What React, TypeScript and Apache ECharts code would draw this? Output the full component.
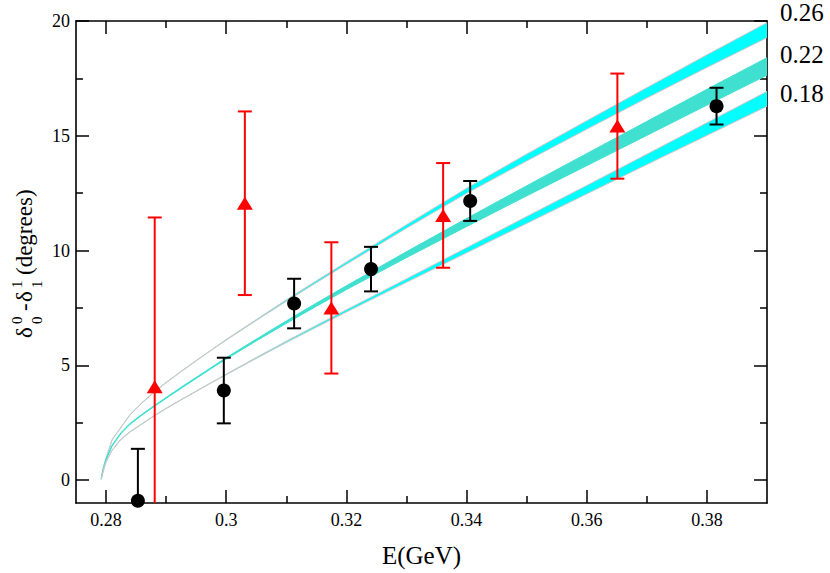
import React, { useEffect, useRef } from "react";
import * as echarts from "echarts";

// ---------- data ----------
const CURVE_X = [
  0.2792, 0.2795, 0.28, 0.281, 0.2825, 0.284, 0.286, 0.288, 0.29, 0.2925, 0.295, 0.2975, 0.3,
  0.305, 0.31, 0.315, 0.32, 0.325, 0.33, 0.34, 0.35, 0.36, 0.37, 0.38, 0.39,
];
// band centres (degrees)
const CURVE_026 = [
  0.05, 0.5, 0.95, 1.75, 2.3, 2.85, 3.37, 3.83, 4.25, 4.73, 5.2, 5.66, 6.11,
  6.97, 7.82, 8.64, 9.45, 10.25, 11.05, 12.6, 14.05, 15.47, 16.87, 18.25, 19.6,
];
const CURVE_022 = [
  0.05, 0.42, 0.9, 1.5, 2.05, 2.45, 2.85, 3.22, 3.58, 4.02, 4.45, 4.88, 5.3,
  6.1, 6.88, 7.64, 8.38, 9.1, 9.82, 11.22, 12.6, 13.96, 15.32, 16.68, 18.02,
];
const CURVE_018 = [
  0.05, 0.35, 0.78, 1.3, 1.78, 2.1, 2.45, 2.8, 3.12, 3.5, 3.87, 4.24, 4.6,
  5.32, 6.02, 6.7, 7.37, 8.03, 8.69, 10.01, 11.33, 12.65, 13.97, 15.29, 16.61,
];
// band full widths (degrees)
const WIDTH_026 = [
  0.02, 0.02, 0.02, 0.02, 0.02, 0.02, 0.02, 0.02, 0.02, 0.02, 0.02, 0.02, 0.03,
  0.04, 0.06, 0.08, 0.1, 0.12, 0.15, 0.22, 0.3, 0.37, 0.45, 0.55, 0.65,
];
const WIDTH_022 = [
  0.03, 0.03, 0.03, 0.03, 0.03, 0.03, 0.03, 0.03, 0.03, 0.04, 0.04, 0.04, 0.05,
  0.07, 0.1, 0.13, 0.16, 0.2, 0.25, 0.34, 0.43, 0.52, 0.6, 0.68, 0.75,
];
const WIDTH_018 = [
  0.02, 0.02, 0.02, 0.02, 0.02, 0.02, 0.02, 0.02, 0.02, 0.02, 0.02, 0.02, 0.03,
  0.04, 0.06, 0.08, 0.1, 0.12, 0.15, 0.22, 0.3, 0.37, 0.45, 0.55, 0.65,
];
const BAND_LABELS = ["0.26", "0.22", "0.18"];

const BLACK_X = [0.2853, 0.2996, 0.3113, 0.3241, 0.3406, 0.3816];
const BLACK_Y = [-0.9, 3.9, 7.69, 9.19, 12.16, 16.29];
const BLACK_ERR = [2.26, 1.43, 1.08, 0.97, 0.87, 0.8];

const RED_X = [0.2881, 0.3031, 0.3175, 0.3361, 0.3651];
const RED_Y = [4.07, 12.06, 7.5, 11.53, 15.42];
const RED_ERR = [7.37, 4.0, 2.86, 2.28, 2.29];

const X_MAJOR = [0.28, 0.3, 0.32, 0.34, 0.36, 0.38];
const X_MINOR = [0.29, 0.31, 0.33, 0.35, 0.37];
const Y_MAJOR = [0, 5, 10, 15, 20];
const Y_MINOR = [2.5, 7.5, 12.5, 17.5];

const X_NAME = "E(GeV)";

const FONT = "'Liberation Serif', 'Times New Roman', serif";

export default function App() {
  const ref = useRef<HTMLDivElement>(null);

  useEffect(() => {
    const chart = echarts.init(ref.current as HTMLDivElement, null, { renderer: "svg" });

    const xMin = 0.275, xMax = 0.39, yMin = -1, yMax = 20;

    const labelStyle = (show: boolean, vals: number[], margin: number) => ({
      show,
      customValues: vals,
      margin,
      fontFamily: FONT,
      fontSize: 18,
      color: "#000",
      formatter: (v: number) => "{t|" + String(+(+v).toFixed(3)) + "}",
      rich: { t: { fontFamily: FONT, fontSize: 18, color: "#000" } },
    });

    const mkX = (position: string, vals: number[], len: number, line: boolean, label: boolean, name?: string) => ({
      type: "value",
      position,
      min: xMin,
      max: xMax,
      name: name,
      nameLocation: "middle",
      nameGap: 40,
      nameTextStyle: { fontFamily: FONT, fontSize: 25, color: "#000", lineHeight: 25 },
      axisLine: { show: line, onZero: false, lineStyle: { color: "#000", width: 1.6 } },
      axisTick: { show: true, inside: true, length: len, customValues: vals, lineStyle: { color: "#000", width: 1.5 } },
      axisLabel: labelStyle(label, vals, 8),
      splitLine: { show: false },
    });
    const mkY = (position: string, vals: number[], len: number, line: boolean, label: boolean) => ({
      type: "value",
      position,
      min: yMin,
      max: yMax,
      axisLine: { show: line, onZero: false, lineStyle: { color: "#000", width: 1.6 } },
      axisTick: { show: true, inside: true, length: len, customValues: vals, lineStyle: { color: "#000", width: 1.5 } },
      axisLabel: labelStyle(label, vals, 6),
      splitLine: { show: false },
    });

    const bands = [
      { c: CURVE_026, w: WIDTH_026, fill: "#00ffff", edge: "#c8c8c8", stroke: 0 },
      { c: CURVE_022, w: WIDTH_022, fill: "#40e0d0", edge: "#40e0d0", stroke: 0.6 },
      { c: CURVE_018, w: WIDTH_018, fill: "#00ffff", edge: "#c8c8c8", stroke: 0 },
    ];

    const series: any[] = [];
    bands.forEach((b) => {
      const lo = CURVE_X.map((x, i) => [x, b.c[i] - b.w[i] / 2]);
      const hi = CURVE_X.map((x, i) => [x, b.c[i] + b.w[i] / 2]);
      series.push({
        type: "custom",
        clip: true,
        silent: true,
        z: 1,
        encode: { x: 0, y: [1, 2] },
        data: CURVE_X.map((x, i) => [x, lo[i][1], hi[i][1]]),
        renderItem: (params: any, api: any) => {
          if (params.dataIndex !== 0) return { type: "group", children: [] };
          const up = hi.map((p) => api.coord(p));
          const dn = lo.map((p) => api.coord(p)).reverse();
          return {
            type: "polygon",
            shape: { points: up.concat(dn) },
            style: b.stroke > 0
              ? { fill: b.fill, stroke: b.fill, lineWidth: b.stroke }
              : { fill: b.fill },
          };
        },
      });
      [lo, hi].forEach((d) =>
        series.push({
          type: "line",
          silent: true,
          symbol: "none",
          smooth: false,
          z: 2,
          lineStyle: { color: b.edge, width: 1 },
          data: d,
        })
      );
    });

    const errSeries = (xs: number[], ys: number[], es: number[], color: string) => ({
      type: "custom",
      clip: true,
      silent: true,
      z: 3,
      encode: { x: 0, y: [1, 2] },
      data: xs.map((x, i) => [x, ys[i] - es[i], ys[i] + es[i]]),
      renderItem: (_p: any, api: any) => {
        const x = api.value(0);
        const lo = api.coord([x, api.value(1)]);
        const hi = api.coord([x, api.value(2)]);
        const half = 7;
        const style = { stroke: color, lineWidth: 2, fill: "none" };
        return {
          type: "group",
          children: [
            { type: "line", shape: { x1: lo[0], y1: lo[1], x2: hi[0], y2: hi[1] }, style },
            { type: "line", shape: { x1: hi[0] - half, y1: hi[1], x2: hi[0] + half, y2: hi[1] }, style },
            { type: "line", shape: { x1: lo[0] - half, y1: lo[1], x2: lo[0] + half, y2: lo[1] }, style },
          ],
        };
      },
    });

    series.push(errSeries(RED_X, RED_Y, RED_ERR, "#ff0000"));
    series.push(errSeries(BLACK_X, BLACK_Y, BLACK_ERR, "#000000"));
    series.push({
      type: "scatter",
      silent: true,
      z: 4,
      symbol: "triangle",
      symbolSize: [16, 13],
      itemStyle: { color: "#ff0000", opacity: 1 },
      data: RED_X.map((x, i) => [x, RED_Y[i]]),
    });
    series.push({
      type: "scatter",
      silent: true,
      z: 4,
      symbol: "circle",
      symbolSize: 14,
      itemStyle: { color: "#000000", opacity: 1 },
      data: BLACK_X.map((x, i) => [x, BLACK_Y[i]]),
    });

    const labelYs = [13, 55, 94];
    const graphics: any[] = BAND_LABELS.map((t, i) => ({
      type: "text",
      left: 780,
      top: labelYs[i] - 13,
      style: { text: t, fontFamily: FONT, fontSize: 25, fill: "#000" },
    }));

    // y axis title: δ^0_0 - δ^1_1 (degrees), rotated
    const main = { fontFamily: FONT, fontSize: 23, fill: "#000", verticalAlign: "bottom" as const };
    const small = { fontFamily: FONT, fontSize: 15, fill: "#000", verticalAlign: "bottom" as const };
    graphics.push({
      type: "group",
      x: 31,
      y: 338,
      rotation: Math.PI / 2,
      children: [
        { type: "text", x: 0, y: 5, style: { ...main, text: "δ" } },
        { type: "text", x: 14, y: -7, style: { ...small, text: "0" } },
        { type: "text", x: 14, y: 13, style: { ...small, text: "0" } },
        { type: "text", x: 27, y: 5, style: { ...main, text: "-" } },
        { type: "text", x: 36, y: 5, style: { ...main, text: "δ" } },
        { type: "text", x: 50, y: -7, style: { ...small, text: "1" } },
        { type: "text", x: 50, y: 13, style: { ...small, text: "1" } },
        { type: "text", x: 63, y: 5, style: { ...main, text: "(degrees)" } },
      ],
    });

    chart.setOption({
      animation: false,
      backgroundColor: "#ffffff",
      textStyle: { fontFamily: FONT },
      grid: { left: 76, top: 21, right: 63, bottom: 70, containLabel: false, outerBoundsMode: "none" },
      xAxis: [
        mkX("bottom", X_MAJOR, 13, true, true, X_NAME),
        mkX("bottom", X_MINOR, 7, false, false),
        mkX("top", X_MAJOR, 13, true, false),
        mkX("top", X_MINOR, 7, false, false),
      ],
      yAxis: [
        mkY("left", Y_MAJOR, 13, true, true),
        mkY("left", Y_MINOR, 7, false, false),
        mkY("right", Y_MAJOR, 13, true, false),
        mkY("right", Y_MINOR, 7, false, false),
      ],
      series,
      graphic: graphics,
    });

    return () => chart.dispose();
  }, []);

  return (
    <div
      ref={ref}
      style={{ position: "fixed", left: 0, top: 0, width: 830, height: 573, background: "#fff" }}
    />
  );
}
